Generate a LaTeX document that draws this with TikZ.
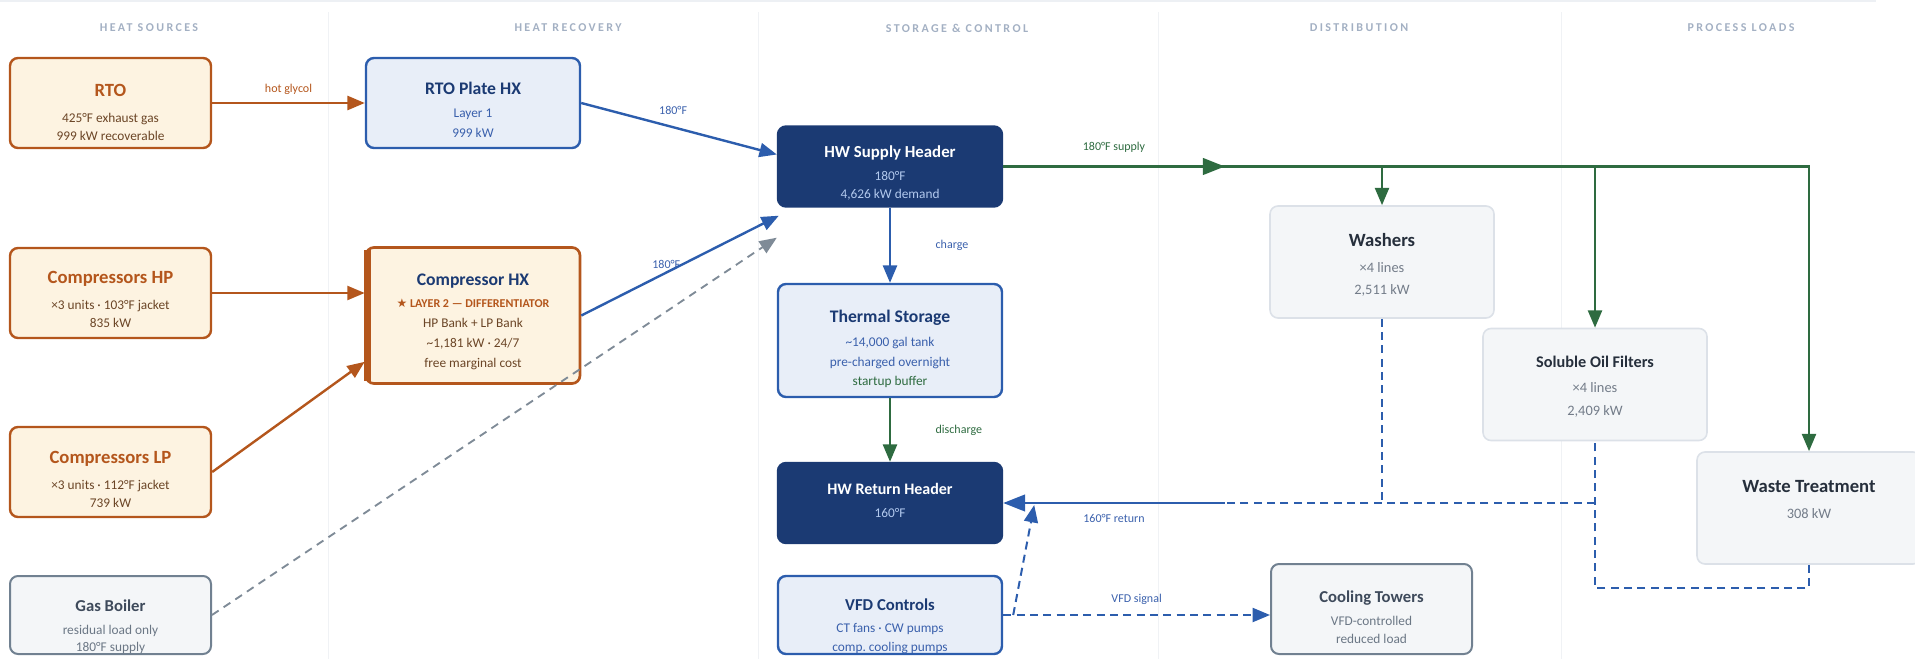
\documentclass[tikz,border=0pt]{standalone}
\usepackage{fontspec}
\setmainfont{Carlito}
\newfontfamily\symfont{DejaVu Sans}
\newfontfamily\headfont[LetterSpace=20]{Carlito}
\usetikzlibrary{arrows.meta, positioning, calc}

\definecolor{srcfill}{HTML}{FDF3E1}
\definecolor{srcline}{HTML}{B4561C}
\definecolor{srctext}{HTML}{6B4526}
\definecolor{hxfill}{HTML}{E8EEF8}
\definecolor{hxline}{HTML}{2C5DAD}
\definecolor{hxtext}{HTML}{3A60AC}
\definecolor{navy}{HTML}{1B3A73}
\definecolor{paleblue}{HTML}{B2C9EE}
\definecolor{flowgreen}{HTML}{2E6B40}
\definecolor{gasfill}{HTML}{F4F6F8}
\definecolor{gasline}{HTML}{718191}
\definecolor{gastext}{HTML}{6B7785}
\definecolor{gastitle}{HTML}{3E4A5B}
\definecolor{loadline}{HTML}{DCE1E8}
\definecolor{loadtitle}{HTML}{262F3C}
\definecolor{loadtext}{HTML}{737C89}
\definecolor{dashgray}{HTML}{7F8B97}
\definecolor{headgray}{HTML}{A3B0C3}
\definecolor{rulegray}{HTML}{EDF0F4}
\definecolor{colsep}{HTML}{F0F2F5}

% box texts
\newcommand{\ttl}[3]{{\fontsize{#1}{#1}\selectfont\bfseries\color{#2}#3}}
\newcommand{\boxtxt}[2]{\raisebox{-#1}[\height][\depth]{\begin{tabular}{@{}c@{}}#2\end{tabular}}}

\tikzset{
  box/.style={rounded corners=6pt, line width=1.8pt, inner sep=0pt,
    font=\fontsize{10}{13.5}\selectfont},
  srcbox/.style={box, draw=srcline, fill=srcfill, text=srctext,
    minimum width=150.75pt, minimum height=67.5pt},
  hxbox/.style={box, draw=hxline, fill=hxfill, text=hxtext, minimum width=168pt},
  hdrbox/.style={box, draw=navy, fill=navy, text=paleblue,
    minimum width=168pt, minimum height=60pt},
  gasbox/.style={box, draw=gasline, line width=1.5pt, fill=gasfill, text=gastext,
    minimum width=150.75pt},
  loadbox/.style={box, draw=loadline, line width=1.2pt, fill=gasfill, text=loadtext,
    minimum width=168pt, minimum height=84pt, font=\fontsize{10.8}{16.5}\selectfont},
  colhead/.style={font=\headfont\bfseries\fontsize{9}{10}\selectfont, text=headgray},
  lbl/.style={font=\fontsize{9}{10}\selectfont},
  srcflow/.style={draw=srcline, line width=1.8pt},
  hotflow/.style={draw=hxline, line width=1.8pt},
  supplyflow/.style={draw=flowgreen, line width=1.8pt},
  retflow/.style={draw=hxline, line width=1.5pt, dash pattern=on 6pt off 4pt},
  backup/.style={draw=dashgray, line width=1.4pt, dash pattern=on 6pt off 4.5pt},
  bigtip/.style={-{Triangle[length=16.5pt, width=12.5pt]}}
}

\begin{document}
\begin{tikzpicture}[x=0.75pt, y=-0.75pt, >={Triangle[length=13pt, width=10.5pt]}]
\useasboundingbox (0,0) rectangle (1915,659);

% Column guides
\draw[rulegray, line width=1.5pt] (0,1) -- (1876,1);
\foreach \gx in {328,758,1158,1561}
  \draw[colsep, line width=0.75pt] (\gx,12) -- (\gx,659);

% Column headings
\node[colhead] (hsrc) at (149,28) {HEAT SOURCES};
\node[colhead] (hrec) at (568,28) {HEAT RECOVERY};
\node[colhead] (hsto) at (957,28) {STORAGE \& CONTROL};
\node[colhead] (hdis) at (1359,28) {DISTRIBUTION};
\node[colhead] (hload) at (1741,28) {PROCESS LOADS};

% Heat sources
\node[srcbox] (rto) at (110.5,103)
  {\boxtxt{8.8pt}{\ttl{14}{srcline}{RTO}\\[6pt] 425°F exhaust gas\\ 999 kW recoverable}};
\node[srcbox] (cphp) at (110.5,293)
  {\boxtxt{7pt}{\ttl{14}{srcline}{Compressors HP}\\[6pt] ×3 units · 103°F jacket\\ 835 kW}};
\node[srcbox] (cplp) at (110.5,472)
  {\boxtxt{7.3pt}{\ttl{14}{srcline}{Compressors LP}\\[6pt] ×3 units · 112°F jacket\\ 739 kW}};
\node[gasbox, minimum height=58.5pt] (boiler) at (110.5,615)
  {\boxtxt{9.5pt}{\ttl{12.5}{gastitle}{Gas Boiler}\\[3.75pt] residual load only\\[-0.75pt] 180°F supply}};

% Heat recovery
\node[hxbox, minimum width=160.5pt, minimum height=67.5pt] (rtohx) at (473,103)
  {\boxtxt{7pt}{\ttl{13.25}{navy}{RTO Plate HX}\\[4pt] Layer 1\\[1.5pt] 999 kW}};
\node[srcbox, line width=2pt, minimum width=160.5pt, minimum height=102pt] (cphx) at (473,315.5)
  {\boxtxt{5.5pt}{\ttl{13.25}{navy}{Compressor HX}\\[3pt]
   {\fontsize{9}{9}\selectfont\bfseries\color{srcline}{\symfont ★} LAYER 2 — DIFFERENTIATOR}\\[1.5pt]
   HP Bank + LP Bank\\[2pt] \textasciitilde1,181 kW · 24/7\\[1.5pt] free marginal cost}};
\draw[srcline, line width=5pt] ([xshift=2.2pt, yshift=-3pt]cphx.north west)
  -- ([xshift=2.2pt, yshift=3pt]cphx.south west);

% Storage & control
\node[hdrbox] (supply) at (890,166.5)
  {\boxtxt{6pt}{\ttl{12.6}{white}{HW Supply Header}\\[3.75pt] 180°F\\ 4,626 kW demand}};
\node[hxbox, minimum height=84.75pt] (storage) at (890,340.5)
  {\boxtxt{7.3pt}{\ttl{13.25}{navy}{Thermal Storage}\\[4.5pt] \textasciitilde14,000 gal tank\\[1.5pt]
   pre-charged overnight\\[0.75pt] \textcolor{flowgreen}{startup buffer}}};
\node[hdrbox] (return) at (890,503)
  {\boxtxt{-0.5pt}{\ttl{12}{white}{HW Return Header}\\[3.75pt] 160°F}};
\node[hxbox, minimum height=58.5pt] (vfd) at (890,615)
  {\boxtxt{9.2pt}{\ttl{12.5}{navy}{VFD Controls}\\[3pt] CT fans · CW pumps\\[0.75pt] comp.\ cooling pumps}};

% Distribution and loads
\node[loadbox] (washers) at (1382,262)
  {\boxtxt{3pt}{\ttl{14}{loadtitle}{Washers}\\[3pt] ×4 lines\\ 2,511 kW}};
\node[loadbox] (sof) at (1595,384.5)
  {\boxtxt{1.8pt}{\ttl{12.2}{loadtitle}{Soluble Oil Filters}\\[2.25pt] ×4 lines\\[0.75pt] 2,409 kW}};
\node[loadbox] (waste) at (1809,508)
  {\boxtxt{-5.5pt}{\ttl{14}{loadtitle}{Waste Treatment}\\[3pt] 308 kW}};
\node[gasbox, minimum height=67.5pt] (towers) at (1371.5,609)
  {\boxtxt{7.8pt}{\ttl{12.5}{gastitle}{Cooling Towers}\\[3.75pt] VFD-controlled\\ reduced load}};

% Sources to recovery
\draw[srcflow, ->] (rto) -- node[lbl, text=srcline, above=2pt] {hot glycol} (rtohx);
\draw[srcflow, ->] (cphp.east) -- (cphp.east -| cphx.west);
\draw[srcflow, ->] (cplp.east) -- ($(cphx.south west)+(0,-23)$);

% Backup boiler
\draw[backup, ->] (boiler.east) -- ($(supply.south west)+(0,30)$);

% Recovery to supply header
\draw[hotflow, ->] (rtohx.east) -- node[lbl, text=hxtext, pos=0.47, above=5pt] {180°F}
  ($(supply.west)+(0,-12)$);
\draw[hotflow, ->] (cphx.east) -- node[lbl, text=hxtext, pos=0.43, yshift=6pt] {180°F}
  ($(supply.south west)+(2,8)$);

% Charge / discharge
\draw[hotflow, ->] (supply) -- node[lbl, text=hxtext, right=30pt] {charge} (storage);
\draw[supplyflow, ->] (storage) -- node[lbl, text=flowgreen, right=30pt] {discharge} (return);

% Supply header to loads
\coordinate (bus) at (waste.north |- supply.east);
\coordinate (sfeed) at ($(supply.east)!0.275!(bus)$);
\draw[supplyflow, ->] (supply.east) -- (bus) -- (waste.north);
\draw[supplyflow, bigtip] (supply.east) -- node[lbl, text=flowgreen, above=6pt] {180°F supply} (sfeed);
\draw[supplyflow, ->] (washers.north |- bus) -- (washers.north);
\draw[supplyflow, ->] (sof.north |- bus) -- (sof.north);

% Returns
\coordinate (rjoin) at (washers.south |- return.east);
\coordinate (rmid) at (sfeed |- return.east);
\draw[retflow] (washers.south) -- (rjoin);
\draw[retflow] (waste.south) -- ++(0,23) -| (sof.south);
\draw[retflow] (sof.south |- return.east) -- (rmid);
\draw[hotflow, bigtip] (rmid) -- node[lbl, text=hxtext, below=4pt] {160°F return} (return.east);

% VFD signals
\draw[retflow, ->] (vfd.east) -- node[lbl, text=hxtext, above=4pt] {VFD signal} (vfd.east -| towers.west);
\draw[retflow, ->] ($(vfd.east)+(10,0)$) -- ($(return.east)+(31,2)$);

\end{tikzpicture}
\end{document}
